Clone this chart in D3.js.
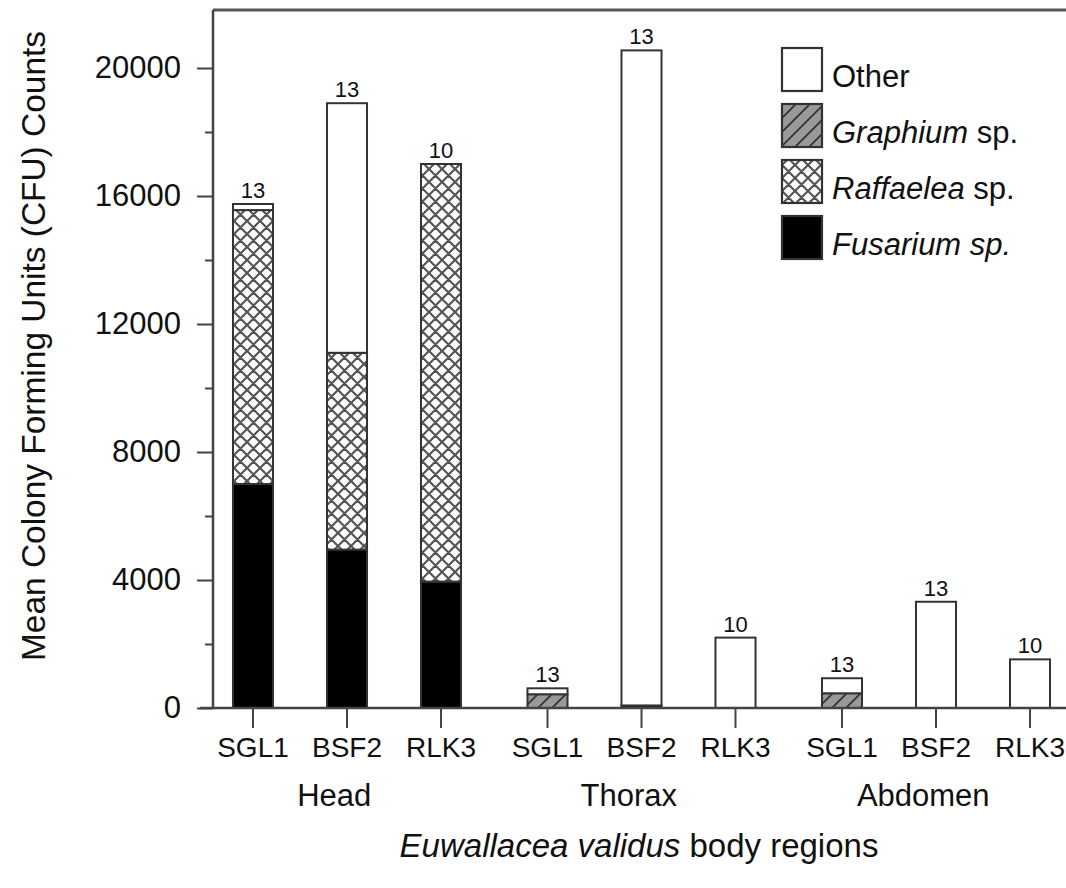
<!DOCTYPE html>
<html><head><meta charset="utf-8">
<script src="https://cdn.jsdelivr.net/npm/d3@7/dist/d3.min.js"></script>
<style>body{margin:0;background:#fff}svg text{font-family:"Liberation Sans",Arial,sans-serif;fill:#111}</style>
</head><body><svg id="c" width="1066" height="888"></svg>
<script>
const groups = ["Head","Thorax","Abdomen"];
const strains = ["SGL1","BSF2","RLK3"];
const series = ["Fusarium","Raffaelea","Graphium","Other"];
// values per bar, order: Head SGL1, BSF2, RLK3, Thorax ..., Abdomen ...
const fusarium  = [7000, 4950, 3950,   0,    80,    0,   0,    0,    0];
const raffaelea = [8560, 6150, 13050,  0,    0,     0,   0,    0,    0];
const graphium  = [0,    0,    0,      430,  0,     0,   460,  0,    0];
const other     = [190,  7800, 0,      185,  20470, 2200, 470, 3320, 1520];
const counts    = [13, 13, 10, 13, 13, 10, 13, 13, 10];
const yTicks = [0, 4000, 8000, 12000, 16000, 20000];
const yMinor = [2000, 6000, 10000, 14000, 18000];

const svg = d3.select("#c");
const defs = svg.append("defs");
// crosshatch
const ph = defs.append("pattern").attr("id","cross").attr("patternUnits","userSpaceOnUse")
  .attr("width",13).attr("height",13);
ph.append("rect").attr("width",13).attr("height",13).attr("fill","#fff");
ph.append("path").attr("d","M0,0L13,13M13,0L0,13M-2,11L2,15M11,-2L15,2M-2,2L2,-2M11,15L15,11")
  .attr("stroke","#555").attr("stroke-width",2.2);
const pd = defs.append("pattern").attr("id","diag").attr("patternUnits","userSpaceOnUse")
  .attr("width",14).attr("height",14);
pd.append("rect").attr("width",14).attr("height",14).attr("fill","#999");
pd.append("path").attr("d","M0,14L14,0M-4,4L4,-4M10,18L18,10").attr("stroke","#333").attr("stroke-width",1.8);

const fills = {Fusarium:"#000", Raffaelea:"url(#cross)", Graphium:"url(#diag)", Other:"#fff"};
const seriesVals = {Fusarium:fusarium, Raffaelea:raffaelea, Graphium:graphium, Other:other};

const y = d3.scaleLinear().domain([0, 21812.5]).range([708, 10]);
const x0 = d3.scaleBand().domain(groups).range([200, 1083.5]).padding(0);
const x1 = d3.scaleBand().domain(strains).range([6, 288]).paddingInner(0.574).paddingOuter(0.287);

const bars = [];
groups.forEach((g,gi)=>strains.forEach((s,si)=>{
  const i = gi*3+si; let acc = 0;
  const segs = series.map(k=>{const v=seriesVals[k][i]; const seg={k,y0:acc,y1:acc+v}; acc+=v; return seg;}).filter(d=>d.y1>d.y0);
  bars.push({g,s,i,segs,total:acc,count:counts[i]});
}));

const bx = d => x0(d.g)+x1(d.s);
const bw = x1.bandwidth();

// frame top
svg.append("line").attr("x1",213).attr("x2",1066).attr("y1",y.range()[1]).attr("y2",y.range()[1])
  .attr("stroke","#555").attr("stroke-width",3);

const bg = svg.append("g");
bars.forEach(b=>{
  b.segs.forEach(sg=>{
    bg.append("rect").attr("x",bx(b)).attr("width",bw)
      .attr("y",y(sg.y1)).attr("height",y(sg.y0)-y(sg.y1))
      .attr("fill",fills[sg.k]).attr("stroke","#333").attr("stroke-width",2);
  });
  bg.append("text").attr("x",bx(b)+bw/2).attr("y",y(b.total)-6).attr("text-anchor","middle")
    .attr("font-size",22).text(b.count);
});

// y axis
const ya = svg.append("g").attr("transform","translate(213,0)")
  .call(d3.axisLeft(y).tickValues(yTicks).tickSize(16).tickPadding(16).tickFormat(d3.format("d")));
ya.select(".domain").remove();
ya.selectAll("line").attr("stroke","#444").attr("stroke-width",2);
ya.selectAll("text").attr("font-size",31).attr("font-family","Liberation Sans, Arial, sans-serif").attr("fill","#111");
const ym = svg.append("g").attr("transform","translate(213,0)")
  .call(d3.axisLeft(y).tickValues(yMinor).tickSize(8).tickFormat(""));
ym.select(".domain").remove();
ym.selectAll("line").attr("stroke","#444").attr("stroke-width",2);
svg.append("line").attr("x1",213).attr("x2",213).attr("y1",y.range()[1]).attr("y2",y(0))
  .attr("stroke","#444").attr("stroke-width",2.5);

// x axis
svg.append("line").attr("x1",200).attr("x2",1066).attr("y1",y(0)).attr("y2",y(0))
  .attr("stroke","#444").attr("stroke-width",2.5);
bars.forEach(b=>{
  const cx = bx(b)+bw/2;
  svg.append("line").attr("x1",cx).attr("x2",cx).attr("y1",y(0)).attr("y2",y(0)+20)
    .attr("stroke","#444").attr("stroke-width",2);
  svg.append("text").attr("x",cx).attr("y",757).attr("text-anchor","middle").attr("font-size",28).text(b.s);
});
groups.forEach(g=>{
  svg.append("text").attr("x",x0(g)+x0.bandwidth()/2-13).attr("y",806).attr("text-anchor","middle")
    .attr("font-size",31).text(g);
});

// axis titles
const xt = svg.append("text").attr("x",639).attr("y",857).attr("text-anchor","middle").attr("font-size",33);
xt.append("tspan").attr("font-style","italic").text("Euwallacea validus");
xt.append("tspan").text(" body regions");
svg.append("text").attr("transform","translate(45,346) rotate(-90)").attr("text-anchor","middle")
  .attr("font-size",33).attr("textLength",630).attr("lengthAdjust","spacingAndGlyphs")
  .text("Mean  Colony Forming Units (CFU) Counts");

// legend
const legend = [
  {k:"Other", main:"Other", it:false},
  {k:"Graphium", main:"Graphium", it:true},
  {k:"Raffaelea", main:"Raffaelea", it:true},
  {k:"Fusarium", main:"Fusarium sp.", it:true, all:true}
];
const lg = svg.append("g").attr("transform","translate(782,48)");
legend.forEach((d,i)=>{
  const gy = i*56;
  lg.append("rect").attr("x",0).attr("y",gy).attr("width",40).attr("height",43)
    .attr("fill",fills[d.k]).attr("stroke","#333").attr("stroke-width",2.2);
  const t = lg.append("text").attr("x",50).attr("y",gy+39).attr("font-size",31);
  if (d.k==="Other") t.text("Other");
  else if (d.all) t.append("tspan").attr("font-style","italic").text(d.main);
  else { t.append("tspan").attr("font-style","italic").text(d.main); t.append("tspan").text(" sp."); }
});
</script></body></html>
